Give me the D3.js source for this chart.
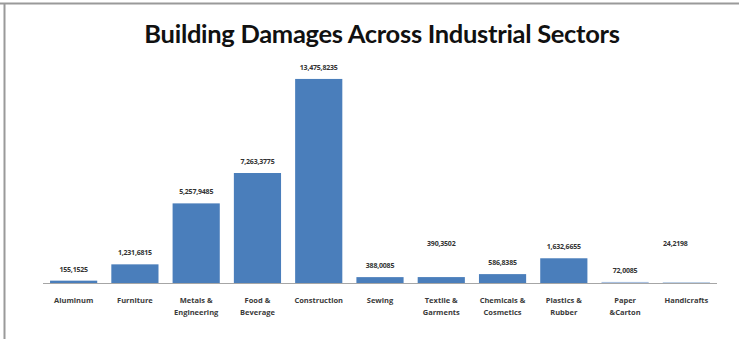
<!DOCTYPE html>
<html>
<head>
<meta charset="utf-8">
<script src="https://cdn.jsdelivr.net/npm/d3@7"></script>
<style>
  html, body { margin: 0; padding: 0; background: #fff; }
  svg { display: block; }
</style>
</head>
<body>
<svg id="chart" width="739" height="339"></svg>
<script>
// Sectors, in display order (each label may wrap onto two lines)
const sectors = [
  ["Aluminum"],
  ["Furniture"],
  ["Metals &", "Engineering"],
  ["Food &", "Beverage"],
  ["Construction"],
  ["Sewing"],
  ["Textile &", "Garments"],
  ["Chemicals &", "Cosmetics"],
  ["Plastics &", "Rubber"],
  ["Paper", "&Carton"],
  ["Handicrafts"]
];

// Building damage per sector
const damages = [155152, 1231681, 5257948, 7263377, 13475823, 388008, 390350, 586838, 1632665, 72008, 24219];

// Value labels as printed above the bars
const valueLabels = ["155,1525", "1,231,6815", "5,257,9485", "7,263,3775", "13,475,8235",
                     "388,0085", "390,3502", "586,8385", "1,632,6655", "72,0085", "24,2198"];

// Sectors whose value label sits in a raised row rather than on the bar
const raisedLabels = new Set([6, 10]);

const svg = d3.select("#chart");
const W = 739, H = 339;
const margin = { left: 43, right: 22, top: 71, baseline: 283 };

// Frame (top and left edges)
svg.append("line").attr("x1", 0).attr("x2", W).attr("y1", 3.5).attr("y2", 3.5)
  .attr("stroke", "#9a9a9a").attr("stroke-width", 2);
svg.append("line").attr("x1", 4.5).attr("x2", 4.5).attr("y1", 3).attr("y2", H)
  .attr("stroke", "#9a9a9a").attr("stroke-width", 2);

// Title
svg.append("text")
  .attr("x", 382).attr("y", 43)
  .attr("text-anchor", "middle")
  .style("font-family", "Lato, 'Open Sans', sans-serif")
  .style("font-weight", "bold")
  .style("font-size", "25.5px")
  .style("letter-spacing", "-0.3px")
  .style("fill", "#111")
  .text("Building Damages Across Industrial Sectors");

const idx = d3.range(sectors.length);
const x = d3.scaleBand().domain(idx).range([margin.left, W - margin.right]).paddingInner(0.23).paddingOuter(0.115);
const y = d3.scaleLinear().domain([0, 14000000]).range([margin.baseline, margin.top]);

// Bars
svg.append("g").selectAll("rect").data(idx).join("rect")
  .attr("x", i => x(i))
  .attr("width", x.bandwidth())
  .attr("y", i => y(damages[i]))
  .attr("height", i => Math.max(0, y(0) - y(damages[i])))
  .attr("fill", i => i === 9 ? "#a9c0e0" : "#4a7ebb");

// Category axis line
svg.append("line")
  .attr("x1", margin.left).attr("x2", W - margin.right)
  .attr("y1", margin.baseline + 0.5).attr("y2", margin.baseline + 0.5)
  .attr("stroke", "#a6a6a6").attr("stroke-width", 1);

// Value labels
svg.append("g").selectAll("text").data(idx).join("text")
  .attr("x", i => x(i) + x.bandwidth() / 2 + (i === 10 ? -11 : 0))
  .attr("y", i => raisedLabels.has(i) ? y(0) - 37 : y(damages[i]) - 9)
  .attr("text-anchor", "middle")
  .style("font-family", "'Open Sans', sans-serif")
  .style("font-weight", "bold")
  .style("font-size", "7px")
  .style("fill", "#333")
  .style("letter-spacing", "-0.2px")
  .text(i => valueLabels[i]);

// Category labels
const cat = svg.append("g").selectAll("text").data(idx).join("text")
  .attr("x", i => x(i) + x.bandwidth() / 2)
  .attr("y", 303)
  .attr("text-anchor", "middle")
  .style("font-family", "'Open Sans', sans-serif")
  .style("font-weight", "bold")
  .style("font-size", "7.5px")
  .style("fill", "#3a3a3a");
cat.selectAll("tspan").data(i => sectors[i].map((t, k) => ({ t, k }))).join("tspan")
  .attr("x", function () { return d3.select(this.parentNode).attr("x"); })
  .attr("dy", d => d.k === 0 ? 0 : 12)
  .text(d => d.t);
</script>
</body>
</html>
